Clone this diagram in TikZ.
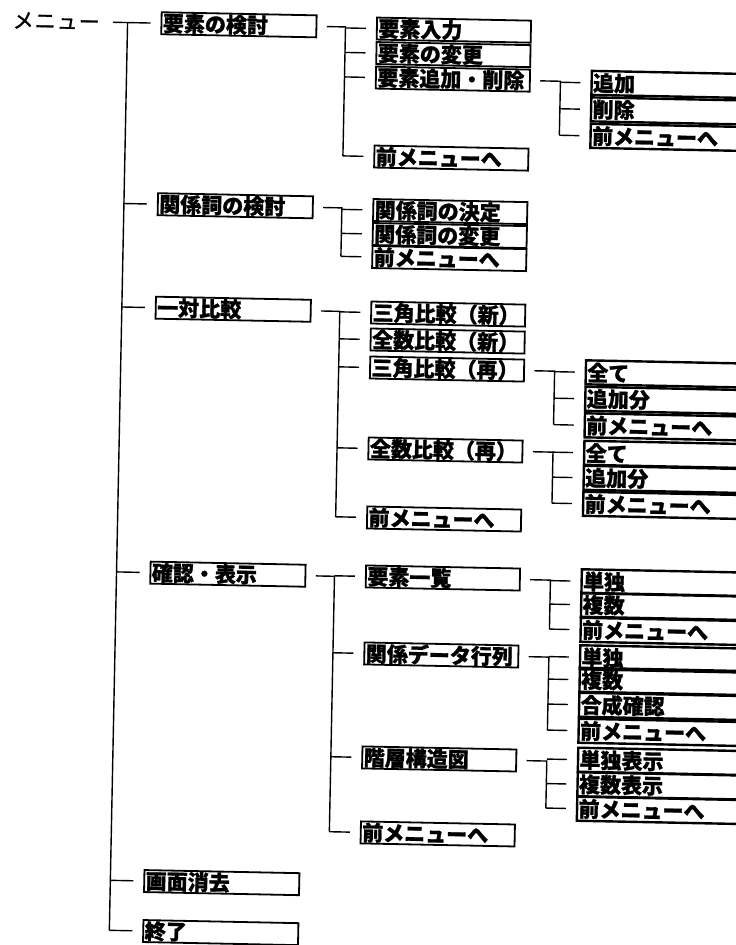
\documentclass[tikz,border=0pt]{standalone}
\usepackage{fontspec}
\setmainfont{Noto Sans CJK JP}[FakeBold=1.2]
\usetikzlibrary{calc}
\begin{document}
\begin{tikzpicture}[x=1pt,y=-1pt,
  txt/.style={anchor=west, inner sep=0pt, font=\fontsize{21pt}{21pt}\selectfont, transform shape},
  box/.style={draw, line width=1.8pt, anchor=west, minimum height=22pt, inner xsep=1.5pt, inner ysep=0pt, align=left, font=\fontsize{21pt}{21pt}\selectfont\bfseries, transform shape},
  lvone/.style={box, text width=152pt},
  lvtwo/.style={box, text width=151pt},
  lvthree/.style={box, text width=180pt, minimum height=24pt, line width=2.4pt},
  conn/.style={line width=1.4pt},
]
\useasboundingbox (0,0) rectangle (736,945);
\fill[white] (0,0) rectangle (736,945);
\clip (0,0) rectangle (736,945);
\begin{scope}[rotate=-1.15]
% root
\node[txt] (menu) at (13,20) {メ\hspace{1pt}ニ\hspace{1pt}ュ\hspace{1pt}ー};
% level 1
\node[lvone] (A) at (161,20) {要素の検討};
\node[lvone] (B) at (161,201) {関係詞の検討};
\node[lvone] (C) at (161,304.5) {一対比較};
\node[lvone] (D) at (161,569.5) {確認・表示};
\node[lvone] (E) at (161,878) {画面消去};
\node[lvone] (F) at (161,928) {終了};
% level 2
\node[lvtwo] (A1) at (376.5,21) {要素入力};
\node[lvtwo] (A2) at (376.5,45.5) {要素の変更};
\node[lvtwo] (A3) at (376.5,70) {要素追加・削除};
\node[lvtwo] (A4) at (376.5,149) {前メニューへ};
\node[lvtwo] (B1) at (376.5,202.5) {関係詞の決定};
\node[lvtwo] (B2) at (376.5,226.5) {関係詞の変更};
\node[lvtwo] (B3) at (376.5,249.5) {前メニューへ};
\node[lvtwo] (C1) at (376.5,305) {三角比較（新）};
\node[lvtwo] (C2) at (376.5,332) {全数比較（新）};
\node[lvtwo] (C3) at (376.5,360) {三角比較（再）};
\node[lvtwo] (C4) at (376.5,441) {全数比較（再）};
\node[lvtwo] (C5) at (376.5,510) {前メニューへ};
\node[lvtwo] (D1) at (376.5,569) {要素一覧};
\node[lvtwo] (D2) at (376.5,646) {関係データ行列};
\node[lvtwo] (D3) at (376.5,750) {階層構造図};
\node[lvtwo] (D4) at (376.5,825) {前メニューへ};
% level 3
\node[lvthree] (A3a) at (592,71) {追加};
\node[lvthree] (A3b) at (592,97.5) {削除};
\node[lvthree] (A3c) at (592,124) {前メニューへ};
\node[lvthree] (C3a) at (592,360.5) {全て};
\node[lvthree] (C3b) at (592,387) {追加分};
\node[lvthree] (C3c) at (592,413.5) {前メニューへ};
\node[lvthree] (C4a) at (592,441) {全て};
\node[lvthree] (C4b) at (592,466) {追加分};
\node[lvthree] (C4c) at (592,492) {前メニューへ};
\node[lvthree] (D1a) at (592,569.5) {単独};
\node[lvthree] (D1b) at (592,593) {複数};
\node[lvthree] (D1c) at (592,618) {前メニューへ};
\node[lvthree] (D2a) at (592,645.5) {単独};
\node[lvthree] (D2b) at (592,668) {複数};
\node[lvthree] (D2c) at (592,693) {合成確認};
\node[lvthree] (D2d) at (592,719) {前メニューへ};
\node[lvthree] (D3a) at (592,748) {単独表示};
\node[lvthree] (D3b) at (592,772.5) {複数表示};
\node[lvthree] (D3c) at (592,797) {前メニューへ};
% trunk lines (local vertical axes)
\coordinate (m1) at (128,0);  \coordinate (m2) at (128,100);
\coordinate (s1) at (346,0);  \coordinate (s2) at (346,100);
\coordinate (r1) at (562,0);  \coordinate (r2) at (562,100);
% root connectors
\draw[conn] ($(menu.east)+(13,0)$) -- ($(A.west)+(-10,0)$);
\draw[conn] ($(m1)!(A.west)!(m2)$) -- ($(m1)!(F.west)!(m2)$);
\foreach \c in {B,C,D,E,F}
  \draw[conn] ($(m1)!(\c.west)!(m2)$) -- ($(\c.west)+(-10,0)$);
% level 1 -> level 2
\draw[conn] ($(A.east)+(9.5,0)$) -- ($(s1)!(A.east)!(s2)$) -- ($(s1)!(A4.west)!(s2)$);
\foreach \c in {A1,A2,A3,A4}
  \draw[conn] ($(s1)!(\c.west)!(s2)$) -- ($(\c.west)+(-10,0)$);
\draw[conn] ($(B.east)+(9.5,0)$) -- ($(s1)!(B.east)!(s2)$) -- ($(s1)!(B3.west)!(s2)$);
\foreach \c in {B1,B2,B3}
  \draw[conn] ($(s1)!(\c.west)!(s2)$) -- ($(\c.west)+(-10,0)$);
\draw[conn] ($(C.east)+(9.5,0)$) -- ($(s1)!(C.east)!(s2)$) -- ($(s1)!(C5.west)!(s2)$);
\foreach \c in {C1,C2,C3,C4,C5}
  \draw[conn] ($(s1)!(\c.west)!(s2)$) -- ($(\c.west)+(-10,0)$);
\draw[conn] ($(D.east)+(9.5,0)$) -- ($(s1)!(D.east)!(s2)$) -- ($(s1)!(D4.west)!(s2)$);
\foreach \c in {D1,D2,D3,D4}
  \draw[conn] ($(s1)!(\c.west)!(s2)$) -- ($(\c.west)+(-10,0)$);
% level 2 -> level 3
\draw[conn] ($(A3.east)+(9.5,0)$) -- ($(r1)!(A3.east)!(r2)$) -- ($(r1)!(A3c.west)!(r2)$);
\foreach \c in {A3a,A3b,A3c}
  \draw[conn] ($(r1)!(\c.west)!(r2)$) -- ($(\c.west)+(-10,0)$);
\draw[conn] ($(C3.east)+(9.5,0)$) -- ($(r1)!(C3.east)!(r2)$) -- ($(r1)!(C3c.west)!(r2)$);
\foreach \c in {C3a,C3b,C3c}
  \draw[conn] ($(r1)!(\c.west)!(r2)$) -- ($(\c.west)+(-10,0)$);
\draw[conn] ($(C4.east)+(9.5,0)$) -- ($(r1)!(C4.east)!(r2)$) -- ($(r1)!(C4c.west)!(r2)$);
\foreach \c in {C4a,C4b,C4c}
  \draw[conn] ($(r1)!(\c.west)!(r2)$) -- ($(\c.west)+(-10,0)$);
\draw[conn] ($(D1.east)+(9.5,0)$) -- ($(r1)!(D1.east)!(r2)$) -- ($(r1)!(D1c.west)!(r2)$);
\foreach \c in {D1a,D1b,D1c}
  \draw[conn] ($(r1)!(\c.west)!(r2)$) -- ($(\c.west)+(-10,0)$);
\draw[conn] ($(D2.east)+(9.5,0)$) -- ($(r1)!(D2.east)!(r2)$) -- ($(r1)!(D2d.west)!(r2)$);
\foreach \c in {D2a,D2b,D2c,D2d}
  \draw[conn] ($(r1)!(\c.west)!(r2)$) -- ($(\c.west)+(-10,0)$);
\draw[conn] ($(D3.east)+(9.5,0)$) -- ($(r1)!(D3.east)!(r2)$) -- ($(r1)!(D3c.west)!(r2)$);
\foreach \c in {D3a,D3b,D3c}
  \draw[conn] ($(r1)!(\c.west)!(r2)$) -- ($(\c.west)+(-10,0)$);
\end{scope}
\end{tikzpicture}
\end{document}
